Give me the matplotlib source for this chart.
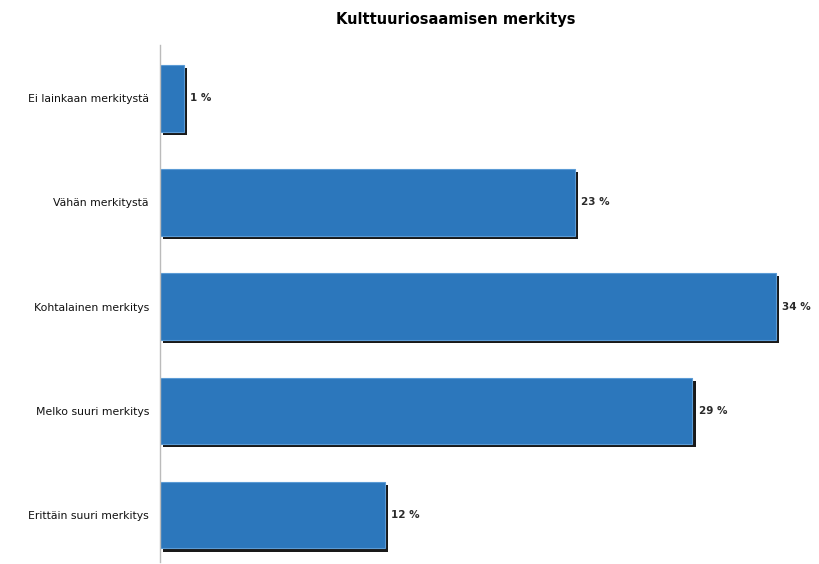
import matplotlib
matplotlib.use("Agg")
import matplotlib.pyplot as plt
import matplotlib.patheffects as pe

categories = ["Ei lainkaan merkitystä", "Vähän merkitystä", "Kohtalainen merkitys",
              "Melko suuri merkitys", "Erittäin suuri merkitys"]
values = [1.3, 22.9, 34.0, 29.4, 12.4]
labels = ["1 %", "23 %", "34 %", "29 %", "12 %"]

fig = plt.figure(figsize=(8.2, 5.64), dpi=100)
ax = fig.add_axes([160 / 820, 1 - 562 / 564, 652 / 820, (562 - 45) / 564])

pos = list(range(len(categories)))
shadow = [pe.SimplePatchShadow(offset=(2.2, -2.2), shadow_rgbFace="black", alpha=0.9), pe.Normal()]
bars = ax.barh(pos, values, height=0.64, color="#2c77bc", edgecolor="#5b9bd5", linewidth=0.8)
for b in bars:
    b.set_path_effects(shadow)

for p, v, lab in zip(pos, values, labels):
    ax.text(v + 0.35, p, lab, va="center", ha="left", fontsize=7.5,
            fontweight="bold", color="#2a2a2a")

ax.set_yticks(pos)
ax.set_yticklabels(categories, fontsize=7.8, color="#111111")
ax.tick_params(axis="y", length=0, pad=8)
ax.set_xticks([])
ax.set_xlim(0, 36)
ax.set_ylim(4.45, -0.51)
for s in ["top", "right", "bottom"]:
    ax.spines[s].set_visible(False)
ax.spines["left"].set_color("#bbbbbb")
ax.spines["left"].set_linewidth(1.0)

fig.text(0.556, 0.965, "Kulttuuriosaamisen merkitys", ha="center", va="center",
         fontsize=10.5, fontweight="bold")

fig.savefig("out.png", dpi=100)
